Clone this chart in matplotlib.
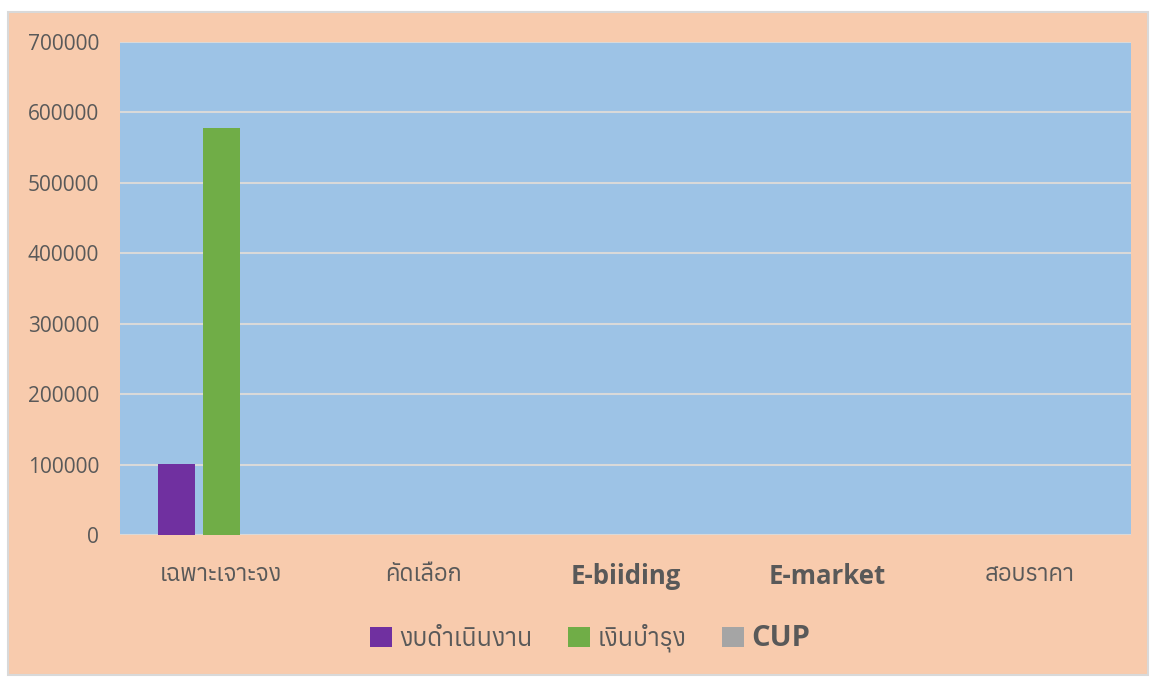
import matplotlib
matplotlib.use("Agg")
import matplotlib.pyplot as plt
from matplotlib import font_manager
from matplotlib.patches import Rectangle
import numpy as np

categories = ["เฉพาะเจาะจง", "คัดเลือก", "E-biiding", "E-market", "สอบราคา"]
series_names = ["งบดำเนินงาน", "เงินบำรุง", "CUP"]
budget_op = [101000, 0, 0, 0, 0]
maintenance = [578000, 0, 0, 0, 0]
cup = [0, 0, 0, 0, 0]
yticks = [0, 100000, 200000, 300000, 400000, 500000, 600000, 700000]

# find a font with Thai glyphs
thai_fonts = []
for f in font_manager.findSystemFonts():
    try:
        ft = matplotlib.ft2font.FT2Font(f)
        cmap = ft.get_charmap()
        if 0x0E01 in cmap and 0x0E07 in cmap:
            thai_fonts.append(font_manager.FontProperties(fname=f).get_name())
    except Exception:
        pass
fam = ["Open Sans"] + sorted(set(thai_fonts)) + ["DejaVu Sans"]
plt.rcParams["font.family"] = fam

TXT = "#595959"
fig = plt.figure(figsize=(11.5, 6.78), dpi=100)
fig.patch.set_facecolor("white")
fig.patches.append(Rectangle((8/1150, 3/678), 1140/1150, 663/678, transform=fig.transFigure,
                             facecolor="#F8CBAD", edgecolor="#D9D9D9", lw=1.5, zorder=-10))
ax = fig.add_axes([120/1150, 1 - 535/678, 1011/1150, 493/678])
ax.set_facecolor("#9DC3E6")
x = np.arange(len(categories))
w = 0.183
step = 0.223
colors = ["#7030A0", "#70AD47", "#A5A5A5"]
for i, (vals, c, n) in enumerate(zip([budget_op, maintenance, cup], colors, series_names)):
    ax.bar(x + (i - 1) * step, vals, width=w, color=c, label=n, zorder=3)
ax.set_xlim(-0.5, len(categories) - 0.5)
ax.set_ylim(0, 700000)
ax.set_yticks(yticks)
ax.set_yticklabels([str(v) for v in yticks], fontsize=15, color=TXT)
ax.grid(axis="y", color="#D9D9D9", lw=1.5, zorder=1)
ax.set_xticks(x)
ax.set_xticklabels(categories, color=TXT)
for i, lab in enumerate(ax.get_xticklabels()):
    if categories[i].startswith("E-"):
        lab.set_fontsize(18.5)
        lab.set_fontweight("bold")
    else:
        lab.set_fontsize(17)
ax.tick_params(axis="both", length=0)
ax.tick_params(axis="x", pad=20)
ax.tick_params(axis="y", pad=15)
for s in ax.spines.values():
    s.set_visible(False)
ax.axhline(0, color="#D9D9D9", lw=1.5, zorder=2)

leg = fig.legend(loc="center", bbox_to_anchor=(590/1150, 1 - 638/678), ncol=3, frameon=False,
                 handlelength=0.9, handleheight=0.9, handletextpad=0.3, columnspacing=1.4,
                 fontsize=18)
for t in leg.get_texts():
    t.set_color(TXT)
    if t.get_text() == "CUP":
        t.set_fontsize(21)
        t.set_fontweight("bold")
fig.savefig("out.png", dpi=100, facecolor=fig.get_facecolor())
